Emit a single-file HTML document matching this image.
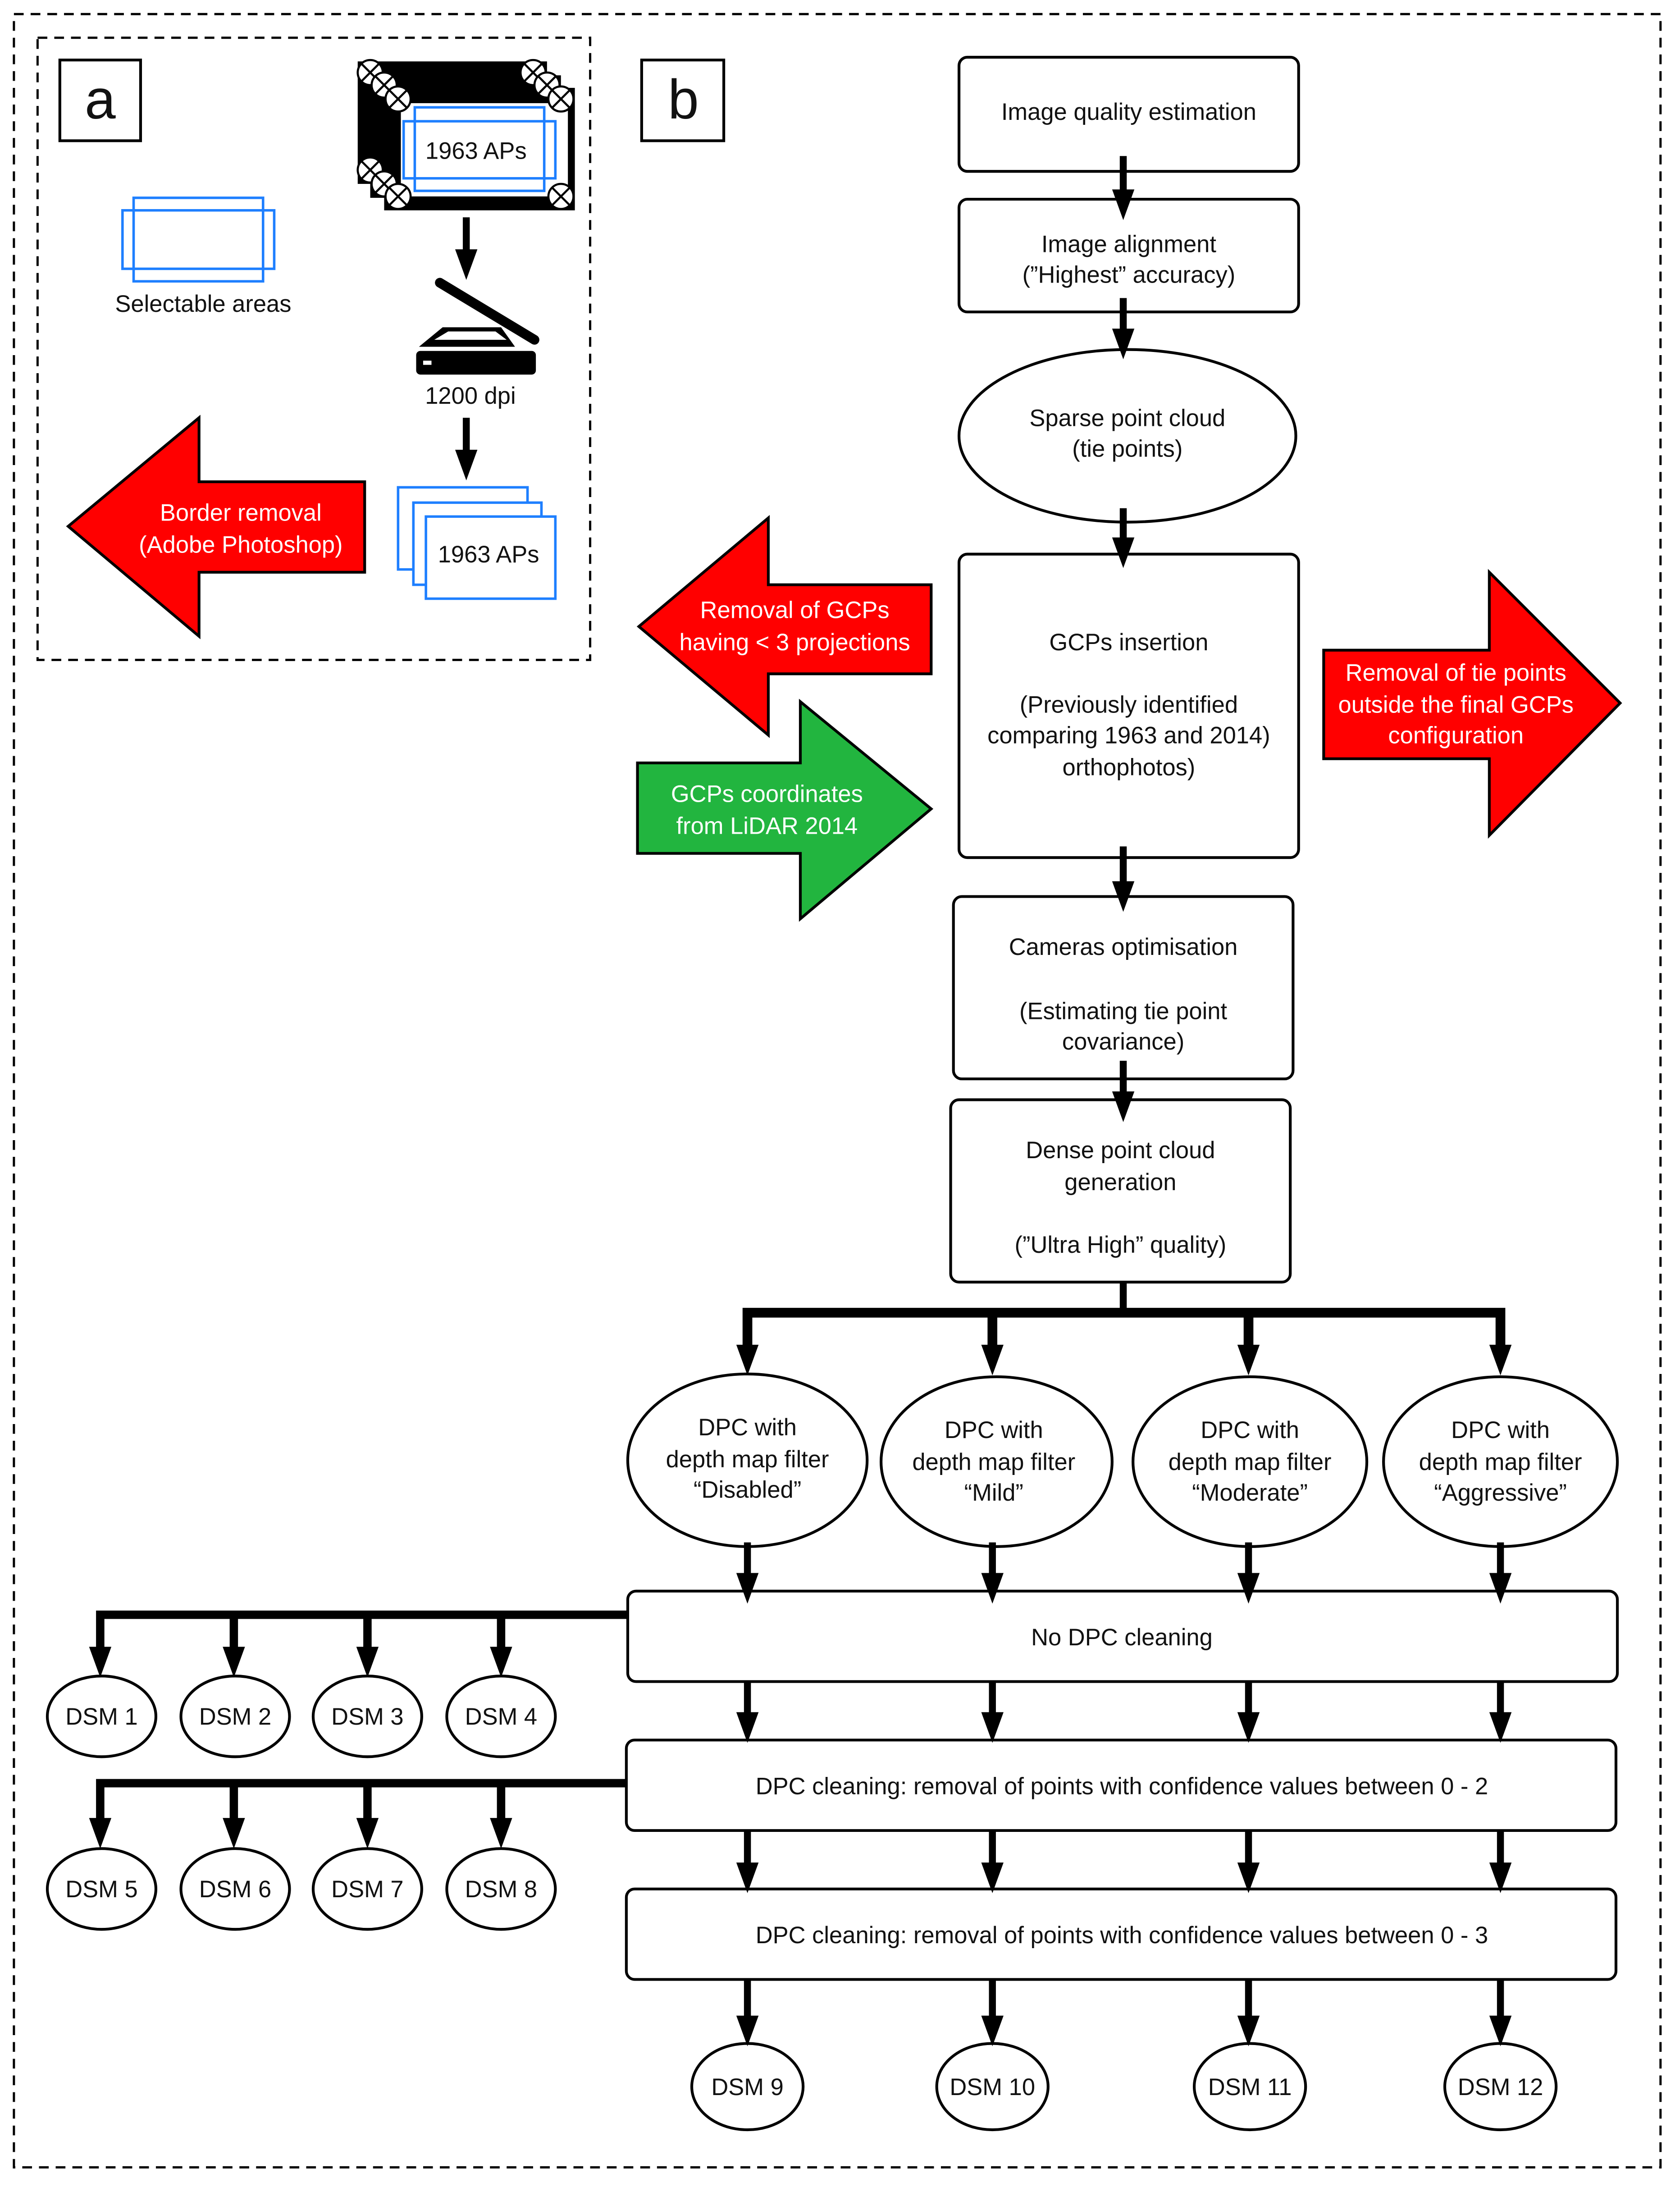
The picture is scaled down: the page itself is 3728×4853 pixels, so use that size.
<!DOCTYPE html>
<html><head><meta charset="utf-8"><style>
html,body{margin:0;padding:0;background:#fff}
svg{display:block}
text{font-family:"Liberation Sans",sans-serif;font-size:17px;fill:#111;text-anchor:middle}
.w{fill:#fff}
</style></head><body>
<svg width="3728" height="4853" viewBox="0 0 1207 1571" xmlns="http://www.w3.org/2000/svg">
<defs>
<g id="ah"><polygon points="-8,-22 8,-22 0,0" fill="#000"/></g>
<g id="cx"><circle r="9" fill="#fff" stroke="#000" stroke-width="1.5"/><path d="M-6,-6L6,6M6,-6L-6,6" stroke="#000" stroke-width="1.5"/></g>
</defs>
<rect x="0" y="0" width="1207" height="1571" fill="#fff"/>
<rect x="10" y="10" width="1183" height="1547" fill="none" stroke="#000" stroke-width="1.6" stroke-dasharray="7,5"/>
<!-- panel a -->
<rect x="27" y="27" width="397" height="447" fill="none" stroke="#000" stroke-width="1.6" stroke-dasharray="7,5"/>
<rect x="43" y="43" width="58" height="58" fill="none" stroke="#000" stroke-width="2"/>
<text x="72" y="85" style="font-size:40px">a</text>
<rect x="257" y="44" width="136" height="88" fill="#000"/>
<rect x="266" y="54" width="137" height="88" fill="#000"/>
<rect x="276" y="63" width="137" height="88" fill="#000"/>
<rect x="288" y="74" width="120" height="67" fill="#fff"/>
<rect x="298" y="77" width="93" height="60" fill="none" stroke="#1e7fff" stroke-width="1.8"/>
<rect x="290" y="87" width="109" height="41" fill="none" stroke="#1e7fff" stroke-width="1.8"/>
<text x="342" y="114">1963 APs</text>
<use href="#cx" x="266" y="52"/><use href="#cx" x="276" y="61"/><use href="#cx" x="286" y="71"/>
<use href="#cx" x="383" y="52"/><use href="#cx" x="393" y="61"/><use href="#cx" x="403" y="71"/>
<use href="#cx" x="266" y="122"/><use href="#cx" x="276" y="132"/><use href="#cx" x="286" y="141"/><use href="#cx" x="403" y="141"/>
<rect x="96" y="142" width="93" height="60" fill="none" stroke="#1e7fff" stroke-width="1.8"/>
<rect x="88" y="151" width="109" height="42" fill="none" stroke="#1e7fff" stroke-width="1.8"/>
<text x="146" y="224">Selectable areas</text>
<line x1="335" y1="156" x2="335" y2="185" stroke="#000" stroke-width="5"/><use href="#ah" x="335" y="201"/>
<line x1="316" y1="203" x2="384" y2="244" stroke="#000" stroke-width="7" stroke-linecap="round"/>
<polygon points="301,249 318,235 360,235 370,249" fill="#000"/>
<polygon points="312,244 322,238 356,238 364,244" fill="#fff"/>
<rect x="299" y="252" width="86" height="17" rx="3" fill="#000"/>
<rect x="304" y="259" width="6" height="3" fill="#fff"/>
<text x="338" y="290">1200 dpi</text>
<line x1="335" y1="300" x2="335" y2="328" stroke="#000" stroke-width="5"/><use href="#ah" x="335" y="345"/>
<rect x="286" y="350" width="93" height="59" fill="#fff" stroke="#1e7fff" stroke-width="1.8"/>
<rect x="297" y="361" width="92" height="59" fill="#fff" stroke="#1e7fff" stroke-width="1.8"/>
<rect x="306" y="371" width="93" height="59" fill="#fff" stroke="#1e7fff" stroke-width="1.8"/>
<text x="351" y="404">1963 APs</text>
<polygon points="49,378 143,300 143,346 262,346 262,411 143,411 143,457" fill="#f00" stroke="#000" stroke-width="2"/>
<text class="w" x="173" y="374">Border removal</text>
<text class="w" x="173" y="397">(Adobe Photoshop)</text>
<!-- panel b -->
<rect x="461" y="43" width="59" height="58" fill="none" stroke="#000" stroke-width="2"/>
<text x="491" y="85" style="font-size:40px">b</text>
<g fill="#fff" stroke="#000" stroke-width="2">
<rect x="689" y="41" width="244" height="82" rx="6"/>
<rect x="689" y="143" width="244" height="81" rx="6"/>
<ellipse cx="810" cy="313" rx="121" ry="62"/>
<rect x="689" y="398" width="244" height="218" rx="6"/>
<rect x="685" y="644" width="244" height="131" rx="6"/>
<rect x="683" y="790" width="244" height="131" rx="6"/>
<ellipse cx="537" cy="1049" rx="86" ry="62"/>
<ellipse cx="716" cy="1050" rx="83" ry="61"/>
<ellipse cx="898" cy="1050" rx="84" ry="61"/>
<ellipse cx="1078" cy="1050" rx="84" ry="61"/>
<rect x="451" y="1143" width="711" height="65" rx="6"/>
<rect x="450" y="1250" width="711" height="65" rx="6"/>
<rect x="450" y="1357" width="711" height="65" rx="6"/>
<ellipse cx="73" cy="1233" rx="39" ry="29"/><ellipse cx="169" cy="1233" rx="39" ry="29"/><ellipse cx="264" cy="1233" rx="39" ry="29"/><ellipse cx="360" cy="1233" rx="39" ry="29"/>
<ellipse cx="73" cy="1357" rx="39" ry="29"/><ellipse cx="169" cy="1357" rx="39" ry="29"/><ellipse cx="264" cy="1357" rx="39" ry="29"/><ellipse cx="360" cy="1357" rx="39" ry="29"/>
<ellipse cx="537" cy="1499" rx="40" ry="31"/><ellipse cx="713" cy="1499" rx="40" ry="31"/><ellipse cx="898" cy="1499" rx="40" ry="31"/><ellipse cx="1078" cy="1499" rx="40" ry="31"/>
</g>
<text x="811" y="86">Image quality estimation</text>
<text x="811" y="181">Image alignment</text>
<text x="811" y="203">(”Highest” accuracy)</text>
<text x="810" y="306">Sparse point cloud</text>
<text x="810" y="328">(tie points)</text>
<text x="811" y="467">GCPs insertion</text>
<text x="811" y="512">(Previously identified</text>
<text x="811" y="534">comparing 1963 and 2014)</text>
<text x="811" y="557">orthophotos)</text>
<text x="807" y="686">Cameras optimisation</text>
<text x="807" y="732">(Estimating tie point</text>
<text x="807" y="754">covariance)</text>
<text x="805" y="832">Dense point cloud</text>
<text x="805" y="855">generation</text>
<text x="805" y="900">(”Ultra High” quality)</text>
<g>
<text x="537" y="1031">DPC with</text><text x="537" y="1054">depth map filter</text><text x="537" y="1076">“Disabled”</text>
<text x="714" y="1033">DPC with</text><text x="714" y="1056">depth map filter</text><text x="714" y="1078">“Mild”</text>
<text x="898" y="1033">DPC with</text><text x="898" y="1056">depth map filter</text><text x="898" y="1078">“Moderate”</text>
<text x="1078" y="1033">DPC with</text><text x="1078" y="1056">depth map filter</text><text x="1078" y="1078">“Aggressive”</text>
</g>
<text x="806" y="1182">No DPC cleaning</text>
<text x="806" y="1289">DPC cleaning: removal of points with confidence values between 0 - 2</text>
<text x="806" y="1396">DPC cleaning: removal of points with confidence values between 0 - 3</text>
<text x="73" y="1239">DSM 1</text><text x="169" y="1239">DSM 2</text><text x="264" y="1239">DSM 3</text><text x="360" y="1239">DSM 4</text>
<text x="73" y="1363">DSM 5</text><text x="169" y="1363">DSM 6</text><text x="264" y="1363">DSM 7</text><text x="360" y="1363">DSM 8</text>
<text x="537" y="1505">DSM 9</text><text x="713" y="1505">DSM 10</text><text x="898" y="1505">DSM 11</text><text x="1078" y="1505">DSM 12</text>
<!-- side arrows -->
<polygon points="459,450 552,372 552,420 669,420 669,484 552,484 552,528" fill="#f00" stroke="#000" stroke-width="2"/>
<text class="w" x="571" y="444">Removal of GCPs</text>
<text class="w" x="571" y="467">having &lt; 3 projections</text>
<polygon points="458,548 575,548 575,504 669,581 575,660 575,613 458,613" fill="#22b53f" stroke="#000" stroke-width="2"/>
<text class="w" x="551" y="576">GCPs coordinates</text>
<text class="w" x="551" y="599">from LiDAR 2014</text>
<polygon points="951,467 1070,467 1070,411 1164,505 1070,600 1070,545 951,545" fill="#f00" stroke="#000" stroke-width="2"/>
<text class="w" x="1046" y="489">Removal of  tie points</text>
<text class="w" x="1046" y="512">outside the final GCPs</text>
<text class="w" x="1046" y="534">configuration</text>
<!-- connectors -->
<g stroke="#000" stroke-width="5" fill="none">
<line x1="807" y1="112" x2="807" y2="140"/>
<line x1="807" y1="214" x2="807" y2="240"/>
<line x1="807" y1="365" x2="807" y2="388"/>
<line x1="807" y1="608" x2="807" y2="636"/>
<line x1="807" y1="762" x2="807" y2="790"/>
<line x1="807" y1="921" x2="807" y2="943"/>
<path d="M537,966V943H1078V966M713,943V966M897,943V966" stroke-width="7"/>
<path d="M537,1108V1132M713,1108V1132M897,1108V1132M1078,1108V1132"/>
<path d="M537,1208V1232M713,1208V1232M897,1208V1232M1078,1208V1232"/>
<path d="M537,1315V1340M713,1315V1340M897,1315V1340M1078,1315V1340"/>
<path d="M537,1422V1450M713,1422V1450M897,1422V1450M1078,1422V1450"/>
<path d="M451,1160H72V1185M168,1160V1185M264,1160V1185M360,1160V1185" stroke-width="6"/>
<path d="M450,1281H72V1308M168,1281V1308M264,1281V1308M360,1281V1308" stroke-width="6"/>
</g>
<use href="#ah" x="807" y="158"/><use href="#ah" x="807" y="258"/><use href="#ah" x="807" y="408"/>
<use href="#ah" x="807" y="655"/><use href="#ah" x="807" y="806"/>
<use href="#ah" x="537" y="988"/><use href="#ah" x="713" y="988"/><use href="#ah" x="897" y="988"/><use href="#ah" x="1078" y="988"/>
<use href="#ah" x="537" y="1152"/><use href="#ah" x="713" y="1152"/><use href="#ah" x="897" y="1152"/><use href="#ah" x="1078" y="1152"/>
<use href="#ah" x="537" y="1252"/><use href="#ah" x="713" y="1252"/><use href="#ah" x="897" y="1252"/><use href="#ah" x="1078" y="1252"/>
<use href="#ah" x="537" y="1360"/><use href="#ah" x="713" y="1360"/><use href="#ah" x="897" y="1360"/><use href="#ah" x="1078" y="1360"/>
<use href="#ah" x="537" y="1470"/><use href="#ah" x="713" y="1470"/><use href="#ah" x="897" y="1470"/><use href="#ah" x="1078" y="1470"/>
<use href="#ah" x="72" y="1205"/><use href="#ah" x="168" y="1205"/><use href="#ah" x="264" y="1205"/><use href="#ah" x="360" y="1205"/>
<use href="#ah" x="72" y="1328"/><use href="#ah" x="168" y="1328"/><use href="#ah" x="264" y="1328"/><use href="#ah" x="360" y="1328"/>
</svg>
</body></html>
